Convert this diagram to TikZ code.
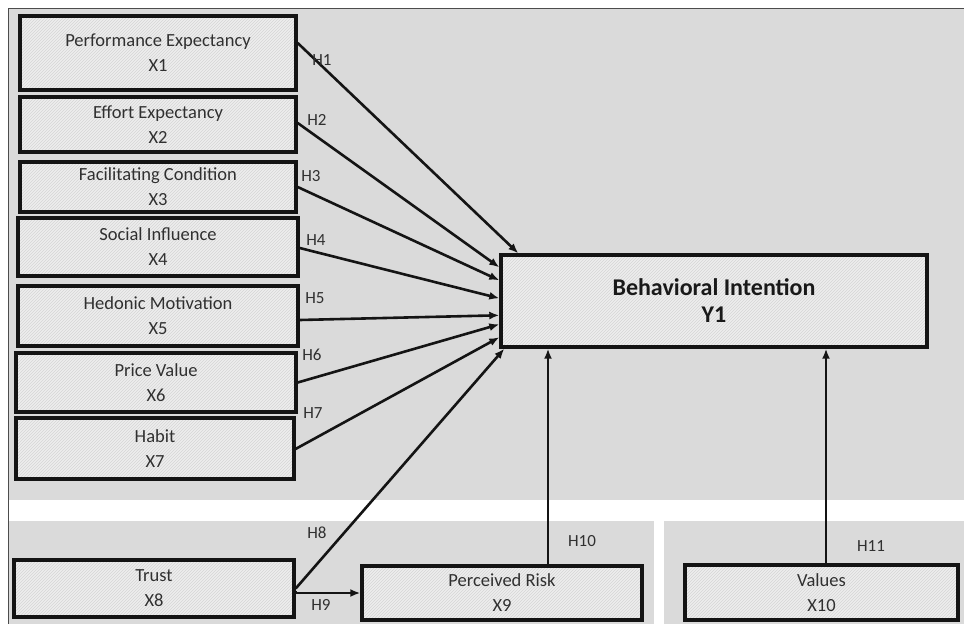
\documentclass[tikz,border=0pt]{standalone}
\usepackage{fontspec}
\setmainfont{Carlito}
\usetikzlibrary{patterns,arrows.meta}
\definecolor{bggray}{HTML}{DADADA}
\definecolor{boxfill}{HTML}{EEEEEE}
\definecolor{hatch}{HTML}{D5D5D5}
\definecolor{txtgray}{HTML}{303030}
\begin{document}
\begin{tikzpicture}[x=1pt,y=-1pt,
  varbox/.style={draw=black!92, line width=3.4pt, inner sep=0pt, align=center,
    text=txtgray, font=\fontsize{18.5}{25}\selectfont,
    preaction={fill=boxfill},
    preaction={pattern=north east lines, pattern color=hatch}},
  arr/.style={line width=2.6pt, draw=black!92, -{Latex[length=10pt,width=8pt]}},
  hlab/.style={text=txtgray, font=\fontsize{17}{20}\selectfont, inner sep=0pt}]
\useasboundingbox (0,0) rectangle (964,624);
\fill[white] (0,0) rectangle (964,624);
% panels
\fill[bggray] (8,8) rectangle (964,500);
\fill[bggray] (8,521) rectangle (654,624);
\fill[bggray] (664,521) rectangle (964,624);
\draw[black!70, line width=0.8pt] (964,8) -- (8,8) -- (8,624);
% boxes
\node[varbox, minimum width=276pt, minimum height=74pt] (X1) at (158,53) {Performance Expectancy\\X1};
\node[varbox, minimum width=276pt, minimum height=55pt] (X2) at (158,124.5) {Effort Expectancy\\X2};
\node[varbox, minimum width=276pt, minimum height=50pt] (X3) at (158,187) {Facilitating Condition\\X3};
\node[varbox, minimum width=280pt, minimum height=58pt] (X4) at (158,247) {Social Influence\\X4};
\node[varbox, minimum width=280pt, minimum height=60pt] (X5) at (158,316) {Hedonic Motivation\\X5};
\node[varbox, minimum width=280pt, minimum height=59pt] (X6) at (156,382.5) {Price Value\\X6};
\node[varbox, minimum width=278pt, minimum height=61pt] (X7) at (155,448.5) {Habit\\X7};
\node[varbox, minimum width=280pt, minimum height=57pt] (X8) at (154,588.5) {Trust\\X8};
\node[varbox, minimum width=280pt, minimum height=54pt] (X9) at (502,593) {Perceived Risk\\X9};
\node[varbox, minimum width=273pt, minimum height=55pt] (X10) at (821.5,592.5) {Values\\X10};
\node[varbox, minimum width=426pt, minimum height=92pt, text=black!90,
  font=\fontsize{24}{27}\selectfont\bfseries] (Y1) at (714,301) {Behavioral Intention\\Y1};
% arrows
\draw[arr] ([yshift=10pt]X1.east) -- ([xshift=19pt]Y1.north west);
\draw[arr] ([yshift=1.5pt]X2.east) -- ([yshift=-14pt]Y1.north west);
\draw[arr] (X3.east) -- ([yshift=-27pt]Y1.north west);
\draw[arr] ([yshift=-1pt]X4.east) -- ([yshift=-45pt]Y1.north west);
\draw[arr] ([yshift=-4pt]X5.east) -- ([yshift=-62pt]Y1.north west);
\draw[arr] (X6.east) -- ([yshift=-71pt]Y1.north west);
\draw[arr] ([xshift=-2pt,yshift=-1.5pt]X7.east) -- ([yshift=-84pt]Y1.north west);
\draw[arr] (X8.east) -- ([xshift=5pt]Y1.south west);
\draw[arr] ([yshift=-2.5pt]X8.east) -- (X8.east |- X9.west) -- (X9.west);
\coordinate (h10s) at ([xshift=46pt]X9.north);
\coordinate (h11s) at ([xshift=4.5pt]X10.north);
\draw[arr] (h10s) -- (h10s |- Y1.south);
\draw[arr] (h11s) -- (h11s |- Y1.south);
% labels
\node[hlab] (L1) at (322,60) {H1};
\node[hlab] (L2) at (317,120) {H2};
\node[hlab] (L3) at (311,176) {H3};
\node[hlab] (L4) at (316,240) {H4};
\node[hlab] (L5) at (315,298) {H5};
\node[hlab] (L6) at (312,355) {H6};
\node[hlab] (L7) at (313,413) {H7};
\node[hlab] (L8) at (317,533) {H8};
\node[hlab] (L9) at (321,605) {H9};
\node[hlab] (L10) at (582,541) {H10};
\node[hlab] (L11) at (871,546) {H11};
\end{tikzpicture}
\end{document}
